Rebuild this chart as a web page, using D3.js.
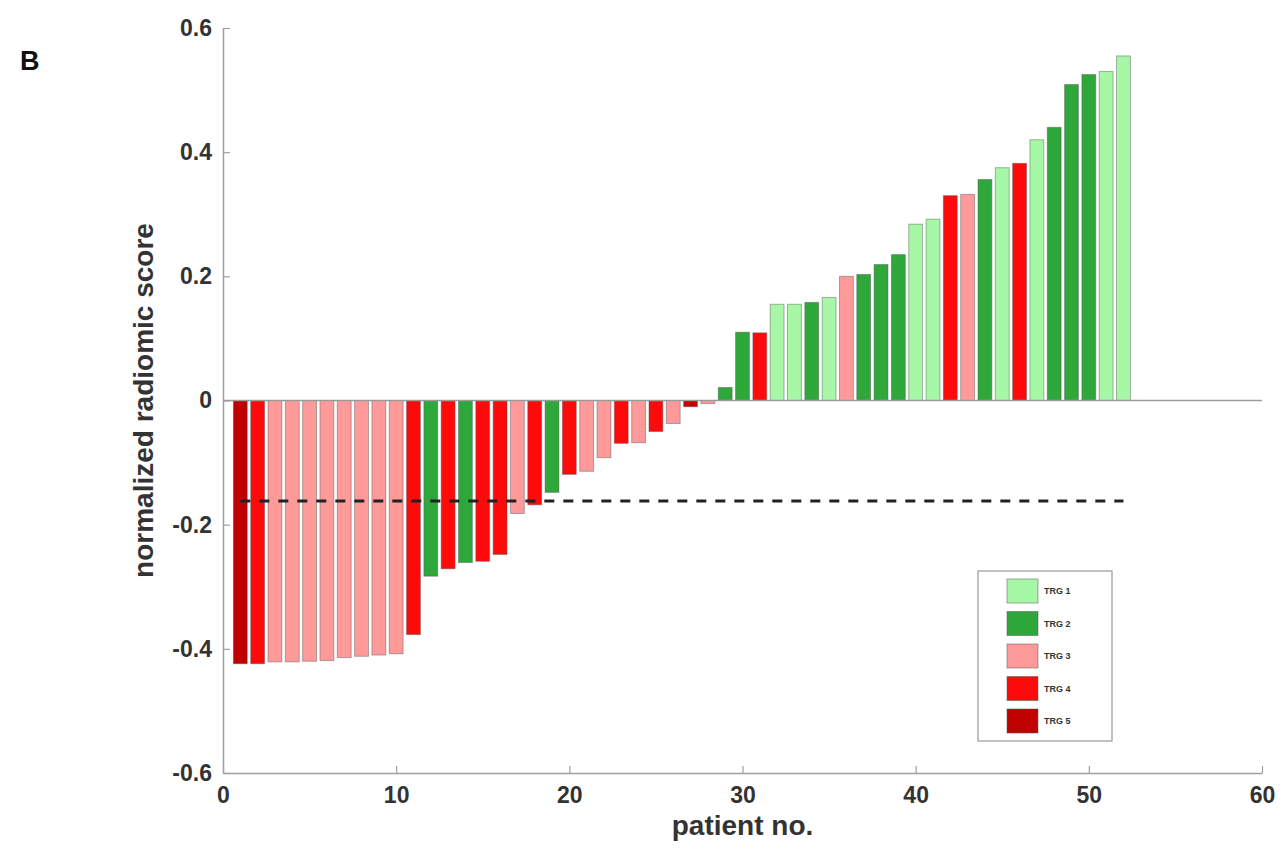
<!DOCTYPE html>
<html>
<head>
<meta charset="utf-8">
<script src="https://cdn.jsdelivr.net/npm/d3@7"></script>
<style>
  body { margin: 0; background: #fff; }
  text { font-family: "Liberation Sans", Arial, sans-serif; }
</style>
</head>
<body>
<svg id="chart"></svg>
<script>
// normalized radiomic score per patient, sorted ascending
const scores = [
  -0.424, -0.424, -0.421, -0.421, -0.420, -0.419, -0.414, -0.412, -0.410, -0.408,
  -0.377, -0.283, -0.271, -0.261, -0.259, -0.248, -0.182, -0.168, -0.148, -0.119,
  -0.114, -0.092, -0.069, -0.068, -0.050, -0.037, -0.010, -0.005, 0.021, 0.110,
  0.109, 0.155, 0.155, 0.158, 0.166, 0.200, 0.203, 0.219, 0.235, 0.284,
  0.292, 0.330, 0.332, 0.356, 0.375, 0.382, 0.420, 0.440, 0.509, 0.525,
  0.530, 0.555
];
// tumour regression grade per patient
const trg = [
  5, 4, 3, 3, 3, 3, 3, 3, 3, 3,
  4, 2, 4, 2, 4, 4, 3, 4, 2, 4,
  3, 3, 4, 3, 4, 3, 5, 3, 2, 2,
  4, 1, 1, 2, 1, 3, 2, 2, 2, 1,
  1, 4, 3, 2, 1, 4, 1, 2, 2, 2,
  1, 1
];
const grades = [1, 2, 3, 4, 5];
const gradeLabels = ["TRG 1", "TRG 2", "TRG 3", "TRG 4", "TRG 5"];
const gradeColors = ["#a6f7a6", "#2ea83a", "#ff9a9a", "#ff0a0a", "#c10000"];
const cutoff = -0.162;
const xTicks = [0, 10, 20, 30, 40, 50, 60];
const yTicks = [-0.6, -0.4, -0.2, 0, 0.2, 0.4, 0.6];

const W = 1283, H = 860;
const margin = { top: 28, right: 21, bottom: 87, left: 223 };
const width = W - margin.left - margin.right;
const height = H - margin.top - margin.bottom;

const data = scores.map((s, i) => ({ patient: i + 1, score: s, trg: trg[i] }));

const svg = d3.select("#chart").attr("width", W).attr("height", H);
const g = svg.append("g").attr("transform", `translate(${margin.left},${margin.top})`);

const x = d3.scaleLinear().domain([0, 60]).range([0, width]);
const y = d3.scaleLinear().domain([-0.6, 0.6]).range([height, 0]);
const color = d3.scaleOrdinal().domain(grades).range(gradeColors);
const barW = (x(1) - x(0)) * 0.8;

// bars
g.selectAll("rect.bar")
  .data(data)
  .join("rect")
  .attr("class", "bar")
  .attr("x", d => x(d.patient) - barW / 2)
  .attr("y", d => y(Math.max(0, d.score)))
  .attr("width", barW)
  .attr("height", d => Math.abs(y(d.score) - y(0)))
  .attr("fill", d => color(d.trg))
  .attr("stroke", "#555")
  .attr("stroke-opacity", 0.45)
  .attr("stroke-width", 1);

// baseline at zero
g.append("line")
  .attr("x1", x(0)).attr("x2", x(60))
  .attr("y1", y(0)).attr("y2", y(0))
  .attr("stroke", "#9a9a9a").attr("stroke-width", 1.5);

// cutoff dashed line
g.append("line")
  .attr("x1", x(1)).attr("x2", x(52))
  .attr("y1", y(cutoff)).attr("y2", y(cutoff))
  .attr("stroke", "#222").attr("stroke-width", 3)
  .attr("stroke-dasharray", "10,9");

// axes (plain hyphen for negatives, like the original)
const yFmt = d => d === 0 ? "0" : d3.format(".1f")(d).replace("\u2212", "-");
const xAxis = g.append("g")
  .attr("transform", `translate(0,${height})`)
  .call(d3.axisBottom(x).tickValues(xTicks).tickFormat(d3.format("d")).tickSizeInner(-7).tickSizeOuter(0).tickPadding(14));
const yAxis = g.append("g")
  .call(d3.axisLeft(y).tickValues(yTicks).tickFormat(yFmt).tickSizeInner(-7).tickSizeOuter(0).tickPadding(11));

[xAxis, yAxis].forEach(a => {
  a.select(".domain").attr("stroke", "#a0a0a0").attr("stroke-width", 1.5);
  a.selectAll(".tick line").attr("stroke", "#a0a0a0").attr("stroke-width", 1.2);
  a.selectAll(".tick text")
    .attr("fill", "#333")
    .style("font-size", "23px")
    .style("font-weight", "bold");
});

// axis labels
svg.append("text")
  .attr("x", margin.left + x(30))
  .attr("y", 835)
  .attr("text-anchor", "middle")
  .attr("fill", "#333")
  .style("font-size", "28px")
  .style("font-weight", "bold")
  .text("patient no.");

svg.append("text")
  .attr("transform", `translate(153,${margin.top + y(0)}) rotate(-90)`)
  .attr("text-anchor", "middle")
  .attr("fill", "#333")
  .style("font-size", "28px")
  .style("font-weight", "bold")
  .text("normalized radiomic score");

// panel letter
svg.append("text")
  .attr("x", 20).attr("y", 70)
  .attr("fill", "#111")
  .style("font-size", "27px")
  .style("font-weight", "bold")
  .text("B");

// legend
const legend = svg.append("g").attr("transform", "translate(978,571)");
legend.append("rect")
  .attr("width", 134).attr("height", 170)
  .attr("fill", "#fff").attr("stroke", "#999").attr("stroke-width", 1.2);
const items = legend.selectAll("g.item")
  .data(grades)
  .join("g")
  .attr("class", "item")
  .attr("transform", (d, i) => `translate(29,${8 + i * 32.5})`);
items.append("rect")
  .attr("width", 31).attr("height", 24)
  .attr("fill", d => color(d))
  .attr("stroke", "#555").attr("stroke-opacity", 0.5);
items.append("text")
  .attr("x", 37).attr("y", 15)
  .attr("fill", "#333")
  .style("font-size", "9px")
  .style("font-weight", "bold")
  .text((d, i) => gradeLabels[i]);
</script>
</body>
</html>
